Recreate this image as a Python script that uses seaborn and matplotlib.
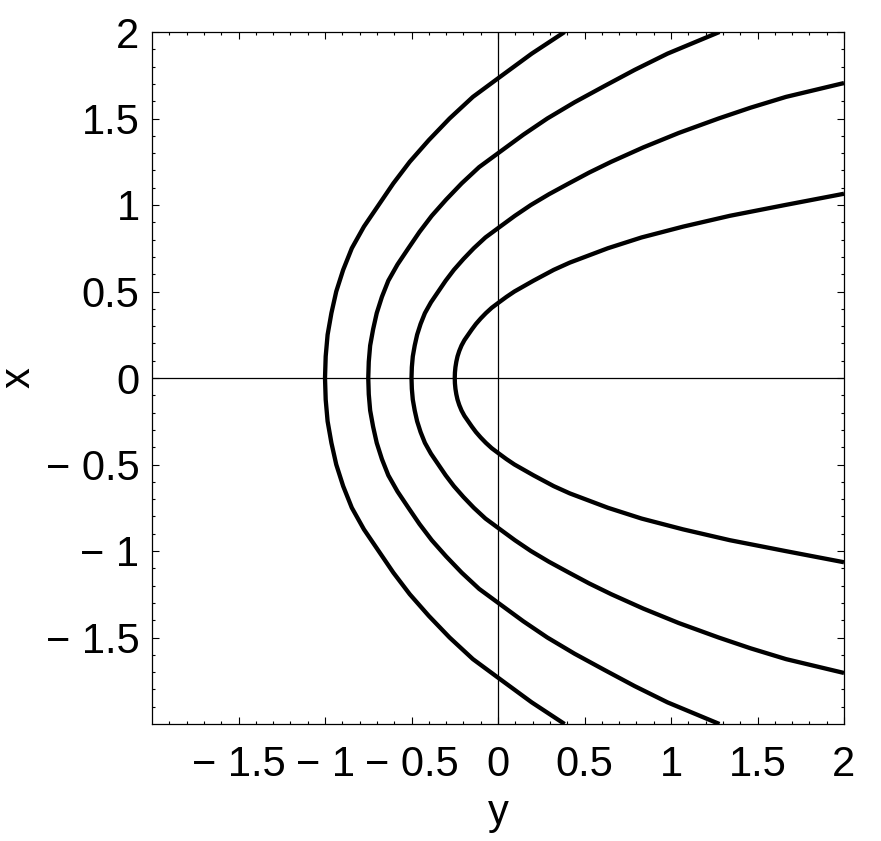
import numpy as np
import pandas as pd
import matplotlib
matplotlib.use("Agg")
import matplotlib.pyplot as plt
import seaborn as sns

# ---- data (upper half, x >= 0; curves are symmetric in x) ----
# horizontal axis is "y", vertical axis is "x"
c1_x = [0, 0.125, 0.25, 0.375, 0.5, 0.625, 0.75, 0.875, 1.0, 1.125, 1.25, 1.375, 1.5, 1.625, 1.732, 1.875, 2.0]
c1_y = [-1.0, -0.996, -0.985, -0.963, -0.935, -0.895, -0.845, -0.775, -0.69, -0.605, -0.51, -0.40, -0.28, -0.145, 0.0, 0.195, 0.385]

c2_x = [0, 0.094, 0.1875, 0.281, 0.375, 0.469, 0.5625, 0.656, 0.75, 0.844, 0.9375, 1.031, 1.125, 1.219, 1.299, 1.406, 1.5, 1.594, 1.6875, 1.781, 1.875, 2.0]
c2_y = [-0.75, -0.747, -0.739, -0.722, -0.701, -0.671, -0.634, -0.581, -0.518, -0.454, -0.383, -0.30, -0.21, -0.109, 0.0, 0.146, 0.285, 0.443, 0.615, 0.79, 0.98, 1.28]

c3_x = [0, 0.0625, 0.125, 0.1875, 0.25, 0.3125, 0.375, 0.4375, 0.5, 0.5625, 0.625, 0.6875, 0.75, 0.8125, 0.866, 0.9375, 1.0, 1.0625, 1.125, 1.1875, 1.25, 1.333, 1.4165, 1.5, 1.5625, 1.625, 1.705]
c3_y = [-0.5, -0.498, -0.4925, -0.4815, -0.4675, -0.4475, -0.4225, -0.3875, -0.345, -0.3025, -0.255, -0.20, -0.14, -0.0725, 0.0, 0.0975, 0.19, 0.295, 0.41, 0.527, 0.655, 0.84, 1.045, 1.275, 1.46, 1.665, 2.0]

c4_x = [0, 0.03125, 0.0625, 0.09375, 0.125, 0.156, 0.1875, 0.219, 0.25, 0.281, 0.3125, 0.344, 0.375, 0.406, 0.433, 0.469, 0.5, 0.5625, 0.625, 0.667, 0.75, 0.8125, 0.875, 0.9375, 1.0, 1.065]
c4_y = [-0.25, -0.249, -0.246, -0.241, -0.234, -0.224, -0.211, -0.194, -0.1725, -0.151, -0.1275, -0.10, -0.07, -0.036, 0.0, 0.049, 0.095, 0.205, 0.322, 0.415, 0.635, 0.83, 1.07, 1.34, 1.66, 2.0]

tick_vals = [-1.5, -1, -0.5, 0, 0.5, 1, 1.5, 2]
tick_labels = ["\u2212 1.5", "\u2212 1", "\u2212 0.5", "0", "0.5", "1", "1.5", "2"]

curves = {"c1": (c1_x, c1_y), "c2": (c2_x, c2_y), "c3": (c3_x, c3_y), "c4": (c4_x, c4_y)}

rows = []
for name, (xs, ys) in curves.items():
    xs = np.asarray(xs, float)
    ys = np.asarray(ys, float)
    full_x = np.concatenate([-xs[::-1], xs[1:]])
    full_y = np.concatenate([ys[::-1], ys[1:]])
    for i, (a, b) in enumerate(zip(full_x, full_y)):
        rows.append({"curve": name, "order": i, "xv": a, "yh": b})
df = pd.DataFrame(rows)

sns.set_style("ticks")
plt.rcParams["font.family"] = ["Liberation Sans", "DejaVu Sans"]
plt.rcParams["text.color"] = "black"
plt.rcParams["axes.labelcolor"] = "black"

fig = plt.figure(figsize=(8.81, 8.41), dpi=100)
ax = fig.add_axes([152 / 881, 1 - 724 / 841, 692 / 881, 692 / 841])

ax.axhline(0, color="black", lw=0.9, zorder=1)
ax.axvline(0, color="black", lw=0.9, zorder=1)

for name in curves:
    sub = df[df["curve"] == name]
    sns.lineplot(data=sub, x="yh", y="xv", sort=False, estimator=None,
                 color="black", lw=3.1, ax=ax, zorder=3,
                 solid_joinstyle="round", solid_capstyle="butt")

ax.set_xlim(-2, 2)
ax.set_ylim(-2, 2)

ax.set_xticks(tick_vals, tick_labels)
ax.set_yticks(tick_vals, tick_labels)
minor = [v / 10 for v in range(-19, 20) if v % 5 != 0]
ax.set_xticks(minor, minor=True)
ax.set_yticks(minor, minor=True)

ax.tick_params(which="both", direction="in", top=True, right=True, colors="black",
               labelcolor="black", width=0.8, labelsize=30)
ax.tick_params(which="major", length=5)
ax.tick_params(which="minor", length=2.5)
ax.tick_params(axis="x", which="major", pad=15)
ax.tick_params(axis="y", which="major", pad=9)

for s in ax.spines.values():
    s.set_color("black")
    s.set_linewidth(0.9)

ax.set_xlabel("y", fontsize=30, color="black")
ax.xaxis.set_label_coords(0.5, (724 - 824) / 692)
ax.xaxis.label.set_verticalalignment("baseline")

ax.set_ylabel("x", fontsize=30, color="black")
ax.yaxis.set_label_coords((30 - 152) / 692, 0.5)
ax.yaxis.label.set_verticalalignment("baseline")

fig.savefig("out.png", dpi=100)
